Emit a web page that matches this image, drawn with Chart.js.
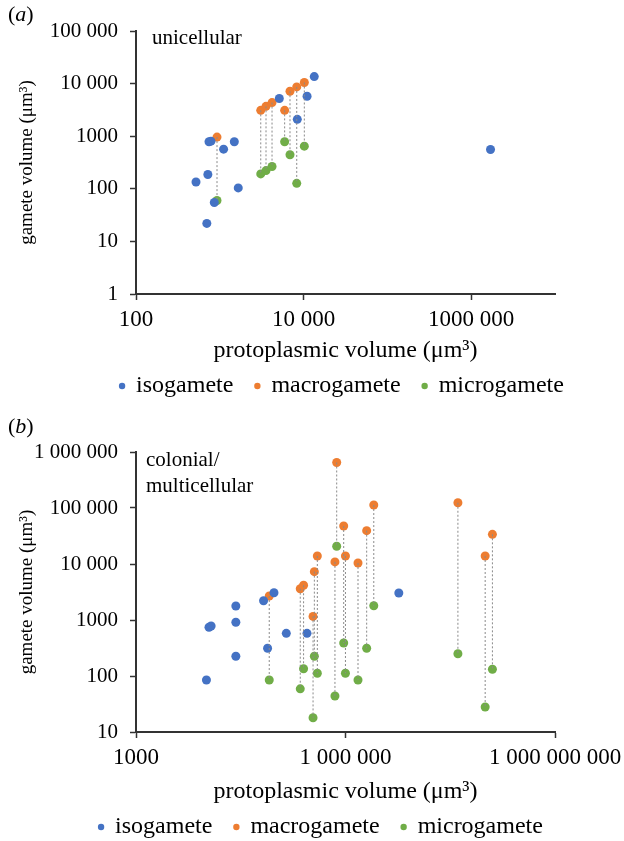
<!DOCTYPE html>
<html>
<head>
<meta charset="utf-8">
<script src="https://cdn.jsdelivr.net/npm/chart.js@4.4.0/dist/chart.umd.min.js"></script>
<style>
  html, body { margin: 0; padding: 0; background: #fff; width: 624px; height: 841px; overflow: hidden; position: relative; }
  canvas { position: absolute; left: 0; }
  #chartA { top: 0; }
  #chartB { top: 400px; }
  .lbl { position: absolute; color: #000; line-height: 1; white-space: nowrap; font-family: 'Liberation Serif', 'Times New Roman', serif; }
  .panel { font-size: 22px; left: 8px; }
  .note { font-size: 21px; }
</style>
</head>
<body>
<canvas id="chartA" width="672" height="420"></canvas>
<canvas id="chartB" width="630" height="449"></canvas>
<div class="lbl panel" style="top:3px;">(<i>a</i>)</div>
<div class="lbl note" style="left:152px; top:27px;">unicellular</div>
<div class="lbl panel" style="top:415px;">(<i>b</i>)</div>
<div class="lbl note" style="left:146px; top:449px;">colonial/</div>
<div class="lbl note" style="left:146px; top:475px;">multicellular</div>
<script>
const FONT = "'Liberation Serif', 'Times New Roman', serif";
Chart.defaults.font.family = FONT;
Chart.defaults.color = '#000';

const seriesNames = ['isogamete', 'macrogamete', 'microgamete'];
const seriesColors = ['#4472C4', '#ED7D31', '#70AD47'];

// (a) unicellular
const isoXa = [520, 700, 720, 743, 785, 860, 1110, 1490, 1660, 5130, 8410, 11000, 13400, 1700000];
const isoYa = [135, 22, 187, 785, 805, 55, 567, 785, 104, 5200, 2090, 5750, 13600, 560];
const macroXa = [926, 3080, 3560, 4200, 5940, 6880, 8280, 10200];
const macroYa = [962, 3100, 3700, 4360, 3100, 7170, 8650, 10500];
const microYa = [60, 192, 222, 265, 785, 444, 127, 647];
const xTicksA = [100, 10000, 1000000];
const xLabelsA = ['100', '10 000', '1000 000'];
const yTicksA = [1, 10, 100, 1000, 10000, 100000];
const yLabelsA = ['1', '10', '100', '1000', '10 000', '100 000'];

// (b) colonial / multicellular
const isoXb = [10200, 11100, 11900, 26900, 26900, 26900, 67100, 76600, 94600, 142000, 281000, 5800000];
const isoYb = [85, 742, 781, 1780, 910, 225, 2210, 313, 3070, 578, 578, 3040];
const macroXb = [80900, 225000, 251000, 343000, 358000, 395000, 706000, 748000, 942000, 998000,
                 1510000, 2010000, 2540000, 40700000, 100000000, 127000000];
const macroYb = [2680, 3620, 4170, 1160, 7300, 13900, 10900, 650000, 47700, 13900,
                 10400, 39400, 113000, 124000, 13900, 33900];
const microYb = [85, 59, 135, 18, 225, 112, 44, 20700, 388, 112,
                 85, 313, 1800, 250, 28, 132];
const xTicksB = [1000, 1000000, 1000000000];
const xLabelsB = ['1000', '1 000 000', '1 000 000 000'];
const yTicksB = [10, 100, 1000, 10000, 100000, 1000000];
const yLabelsB = ['10', '100', '1000', '10 000', '100 000', '1 000 000'];

function pts(xs, ys) { return xs.map((x, i) => ({ x: x, y: ys[i] })); }

function makeChart(id, cfg) {
  const sets = [
    { label: seriesNames[0], data: pts(cfg.isoX, cfg.isoY) },
    { label: seriesNames[1], data: pts(cfg.macroX, cfg.macroY) },
    { label: seriesNames[2], data: pts(cfg.macroX, cfg.microY) }
  ].map((s, i) => Object.assign(s, {
    backgroundColor: seriesColors[i], borderColor: seriesColors[i], borderWidth: 0,
    pointRadius: 4.5, order: 1
  }));
  // dotted drop lines between macro- and microgamete of the same species
  cfg.macroX.forEach((x, i) => {
    sets.push({
      label: '', data: [{ x: x, y: cfg.macroY[i] }, { x: x, y: cfg.microY[i] }],
      showLine: true, borderColor: '#8a8a8a', borderWidth: 1, borderDash: [2, 2],
      pointRadius: 0, order: 0
    });
  });

  const axisColor = '#333';
  return new Chart(document.getElementById(id), {
    type: 'scatter',
    data: { datasets: sets },
    options: {
      responsive: false, animation: false, events: [],
      layout: { padding: { top: cfg.padTop, left: 12, right: 0, bottom: cfg.padBottom } },
      scales: {
        x: {
          type: 'logarithmic', min: cfg.xMin, max: cfg.xMax,
          afterBuildTicks: s => { s.ticks = cfg.xTicks.map(v => ({ value: v })); },
          afterFit: s => { s.height = cfg.xHeight; },
          ticks: { autoSkip: false, maxRotation: 0, padding: 6, font: { size: 23 },
                   callback: v => cfg.xLabels[cfg.xTicks.indexOf(v)] },
          grid: { display: true, drawOnChartArea: false, drawTicks: true, tickLength: 6, tickColor: axisColor, tickWidth: 1.5 },
          border: { display: true, color: axisColor, width: 2 },
          title: { display: true, text: 'protoplasmic volume (μm³)', padding: { top: 0, bottom: 0 },
                   font: { size: 24, lineHeight: 0.1 } }
        },
        y: {
          type: 'logarithmic', min: cfg.yMin, max: cfg.yMax,
          afterBuildTicks: s => { s.ticks = cfg.yTicks.map(v => ({ value: v })); },
          afterFit: s => { s.width = 124; },
          ticks: { autoSkip: false, padding: 12, font: { size: 21 },
                   callback: v => cfg.yLabels[cfg.yTicks.indexOf(v)] },
          grid: { display: true, drawOnChartArea: false, drawTicks: true, tickLength: 6, tickColor: axisColor, tickWidth: 1.5 },
          border: { display: true, color: axisColor, width: 2 },
          title: { display: true, text: 'gamete volume (μm³)', padding: { top: 6, bottom: 0 },
                   font: { size: 19, lineHeight: 1 } }
        },
        yR: {
          type: 'linear', position: 'right', display: true,
          grid: { display: false }, border: { display: false }, ticks: { display: false },
          afterFit: s => { s.width = cfg.rightW; }
        }
      },
      plugins: {
        tooltip: { enabled: false },
        legend: {
          position: 'bottom',
          labels: {
            usePointStyle: true, pointStyle: 'circle', boxWidth: 4, boxHeight: 4.5,
            padding: 22, color: '#000', font: { size: 24 },
            filter: item => item.datasetIndex < 3
          }
        }
      }
    }
  });
}

makeChart('chartA', {
  isoX: isoXa, isoY: isoYa, macroX: macroXa, macroY: macroYa, microY: microYa,
  xMin: 100, xMax: 10000000, xTicks: xTicksA, xLabels: xLabelsA,
  yMin: 1, yMax: 100000, yTicks: yTicksA, yLabels: yLabelsA,
  padTop: 31, padBottom: 12, xHeight: 58, rightW: 117
});

makeChart('chartB', {
  isoX: isoXb, isoY: isoYb, macroX: macroXb, macroY: macroYb, microY: microYb,
  xMin: 1000, xMax: 1000000000, xTicks: xTicksB, xLabels: xLabelsB,
  yMin: 10, yMax: 1000000, yTicks: yTicksB, yLabels: yLabelsB,
  padTop: 52, padBottom: 0, xHeight: 61, rightW: 75
});
</script>
</body>
</html>
